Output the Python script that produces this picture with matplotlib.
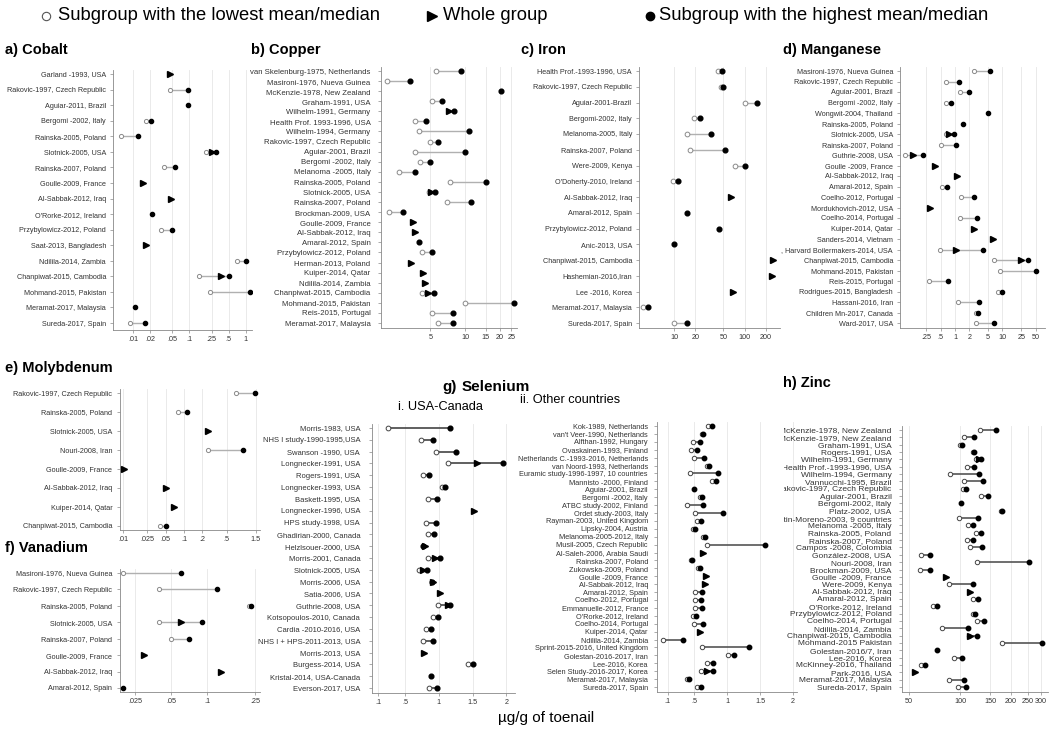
import numpy as np
import matplotlib
matplotlib.use("Agg")
import matplotlib.pyplot as plt
from matplotlib.ticker import NullLocator
from matplotlib.transforms import Bbox, TransformedBbox

plt.rcParams['font.family'] = ['Liberation Sans', 'DejaVu Sans']

W, H = 1050, 732
N = None

# ---------------- data (toenail concentrations, ug/g) ----------------
co_labels = ["Garland -1993, USA", "Rakovic-1997, Czech Republic", "Aguiar-2011, Brazil",
             "Bergomi -2002, Italy", "Rainska-2005, Poland", "Slotnick-2005, USA",
             "Rainska-2007, Poland", "Goulle-2009, France", "Al-Sabbak-2012, Iraq",
             "O'Rorke-2012, Ireland", "Przybylowicz-2012, Poland", "Saat-2013, Bangladesh",
             "Ndilila-2014, Zambia", "Chanpiwat-2015, Cambodia", "Mohmand-2015, Pakistan",
             "Meramat-2017, Malaysia", "Sureda-2017, Spain"]
co_low = [N, .045, N, .017, .006, .2, .035, N, N, N, .032, N, .7, .15, .23, N, .009]
co_whole = [.045, N, N, N, N, .25, N, .015, .047, N, N, .017, N, .37, N, N, N]
co_high = [N, .095, .095, .021, .012, .3, .055, N, N, .022, .05, N, 1.0, .5, 1.2, .011, .016]

cu_labels = ["van Skelenburg-1975, Netherlands", "Masironi-1976, Nueva Guinea",
             "McKenzie-1978, New Zealand", "Graham-1991, USA", "Wilhelm-1991, Germany",
             "Health Prof. 1993-1996, USA", "Wilhelm-1994, Germany", "Rakovic-1997, Czech Republic",
             "Aguiar-2001, Brazil", "Bergomi -2002, Italy", "Melanoma -2005, Italy",
             "Rainska-2005, Poland", "Slotnick-2005, USA", "Rainska-2007, Poland",
             "Brockman-2009, USA", "Goulle-2009, France", "Al-Sabbak-2012, Iraq",
             "Amaral-2012, Spain", "Przybylowicz-2012, Poland", "Herman-2013, Poland",
             "Kuiper-2014, Qatar", "Ndilila-2014, Zambia", "Chanpiwat-2015, Cambodia",
             "Mohmand-2015, Pakistan", "Reis-2015, Portugal", "Meramat-2017, Malaysia"]
cu_low = [5.6, 2.1, N, 5.2, N, 3.7, 4.0, 5.0, 3.65, 4.1, 2.7, 7.4, 4.9, 6.9, 2.2,
          N, N, N, 4.2, N, N, N, 4.2, 9.9, 5.2, 5.8]
cu_whole = [N, N, N, N, 7.3, N, N, N, N, N, N, N, 5.1, N, N,
            3.5, 3.7, N, N, 3.43, 4.3, 4.45, 4.77, N, N, N]
cu_high = [9.2, 3.3, 20.5, 6.3, 8.0, 4.55, 10.8, 5.8, 10.0, 5.0, 3.7, 15.2, 5.5, 11.1, 2.9,
           N, N, 4.0, 5.2, N, N, N, 5.4, 26.5, 7.9, 7.9]

fe_labels = ["Health Prof.-1993-1996, USA", "Rakovic-1997, Czech Republic", "Aguiar-2001-Brazil",
             "Bergomi-2002, Italy", "Melanoma-2005, Italy", "Rainska-2007, Poland",
             "Were-2009, Kenya", "O'Doherty-2010, Ireland", "Al-Sabbak-2012, Iraq",
             "Amaral-2012, Spain", "Przybylowicz-2012, Poland", "Anic-2013, USA",
             "Chanpiwat-2015, Cambodia", "Hashemian-2016,Iran", "Lee -2016, Korea",
             "Meramat-2017, Malaysia", "Sureda-2017, Spain"]
fe_low = [42, 46, 101, 19, 15, 17, 73, 9.7, N, N, N, N, N, N, N, 3.6, 9.8]
fe_whole = [N, N, N, N, N, N, N, N, 65, N, N, N, 250, 244, 68, N, N]
fe_high = [48, 50, 150, 23, 33, 52, 100, 11.3, N, 15, 44, 9.9, N, N, N, 4.2, 15]

mn_labels = ["Masironi-1976, Nueva Guinea", "Rakovic-1997, Czech Republic", "Aguiar-2001, Brazil",
             "Bergomi -2002, Italy", "Wongwit-2004, Thailand", "Rainska-2005, Poland",
             "Slotnick-2005, USA", "Rainska-2007, Poland", "Guthrie-2008, USA",
             "Goulle -2009, France", "Al-Sabbak-2012, Iraq", "Amaral-2012, Spain",
             "Coelho-2012, Portugal", "Mordukhovich-2012, USA", "Coelho-2014, Portugal",
             "Kuiper-2014, Qatar", "Sanders-2014, Vietnam", ", Harvard Boilermakers-2014, USA",
             "Chanpiwat-2015, Cambodia", "Mohmand-2015, Pakistan", "Reis-2015, Portugal",
             "Rodrigues-2015, Bangladesh", "Hassani-2016, Iran", "Children Mn-2017, Canada",
             "Ward-2017, USA"]
mn_low = [2.55, .65, 1.27, .64, N, N, .64, .51, .089, N, N, .52, 1.34, N, 1.27, N, N, .48,
          6.7, 8.9, .28, 8.2, 1.14, 2.75, 2.77]
mn_whole = [N, N, N, N, N, N, .74, N, .128, .38, 1.08, N, N, .30, N, 2.55, 6.2, 1.03,
            24.5, N, N, N, N, N, N]
mn_high = [5.45, 1.19, 1.94, .82, 4.87, 1.45, .94, 1.03, .21, N, N, .67, 2.55, N, 2.95, N, N,
           3.83, 35, 50, .72, 9.9, 3.15, 3.05, 6.7]

mo_labels = ["Rakovic-1997, Czech Republic", "Rainska-2005, Poland", "Slotnick-2005, USA",
             "Nouri-2008, Iran", "Goulle-2009, France", "Al-Sabbak-2012, Iraq",
             "Kuiper-2014, Qatar", "Chanpiwat-2015, Cambodia"]
mo_low = [.71, .081, N, .245, N, N, N, .04]
mo_whole = [N, N, .245, N, .0102, .05, .069, N]
mo_high = [1.45, .112, N, .94, N, N, N, .05]

v_labels = ["Masironi-1976, Nueva Guinea", "Rakovic-1997, Czech Republic", "Rainska-2005, Poland",
            "Slotnick-2005, USA", "Rainska-2007, Poland", "Goulle-2009, France",
            "Al-Sabbak-2012, Iraq", "Amaral-2012, Spain"]
v_low = [.02, .04, .221, .04, .05, N, N, N]
v_whole = [N, N, N, .06, N, .0297, .13, N]
v_high = [.06, .121, .232, .09, .071, N, N, .0200]

se1_labels = ["Morris-1983, USA", "NHS I study-1990-1995,USA", "Swanson -1990, USA",
              "Longnecker-1991, USA", "Rogers-1991, USA", "Longnecker-1993, USA",
              "Baskett-1995, USA", "Longnecker-1996, USA", "HPS study-1998, USA",
              "Ghadirian-2000, Canada", "Helzlsouer-2000, USA", "Morris-2001, Canada",
              "Slotnick-2005, USA", "Morris-2006, USA", "Satia-2006, USA", "Guthrie-2008, USA",
              "Kotsopoulos-2010, Canada", "Cardia -2010-2016, USA", "NHS I + HPS-2011-2013, USA",
              "Morris-2013, USA", "Burgess-2014, USA", "Kristal-2014, USA-Canada",
              "Everson-2017, USA"]
se1_low = [.24, .74, .955, 1.14, .76, 1.05, .84, N, .81, .84, N, .84, .71, N, N, .98, .92,
           .81, .76, N, 1.43, N, .85]
se1_whole = [N, N, N, 1.57, N, N, N, 1.52, N, N, .79, .94, .77, .92, 1.02, 1.13, N, N, N,
             .78, N, N, N]
se1_high = [1.17, .91, 1.25, 1.95, .86, 1.09, .97, N, .955, .93, .76, 1.01, .82, .90, N, 1.16,
            .99, .88, .92, N, 1.51, .88, .97]

se2_labels = ["Kok-1989, Netherlands", "van't Veer-1990, Netherlands", "Alfthan-1992, Hungary",
              "Ovaskainen-1993, Finland", "Netherlands C.-1993-2016, Netherlands",
              "van Noord-1993, Netherlands", "Euramic study-1996-1997, 10 countries",
              "Mannisto -2000, Finland", "Aguiar-2001, Brazil", "Bergomi -2002, Italy",
              "ATBC study-2002, Finland", "Ordet study-2003, Italy", "Rayman-2003, United Kingdom",
              "Lipsky-2004, Austria", "Melanoma-2005-2012, Italy", "Musil-2005, Czech Republic",
              "Al-Saleh-2006, Arabia Saudi", "Rainska-2007, Poland", "Zukowska-2009, Poland",
              "Goulle -2009, France", "Al-Sabbak-2012, Iraq", "Amaral-2012, Spain",
              "Coelho-2012, Portugal", "Emmanuelle-2012, France", "O'Rorke-2012, Ireland",
              "Coelho-2014, Portugal", "Kuiper-2014, Qatar", "Ndilila-2014, Zambia",
              "Sprint-2015-2016, United Kingdom", "Golestan-2016-2017, Iran", "Lee-2016, Korea",
              "Selen Study-2016-2017, Korea", "Meramat-2017, Malaysia", "Sureda-2017, Spain"]
se2_low = [.71, .62, .49, .45, .50, .70, .44, .77, N, .59, .40, .51, .55, .49, .63, .69, N,
           .45, .56, N, N, .52, .52, .52, .48, .50, N, .035, .62, 1.01, .69, .60, .39, .55]
se2_whole = [N, N, N, N, N, N, N, N, N, N, N, N, N, N, N, N, .63, N, N, .68, .67, N, N, N,
             N, N, .59, N, N, N, N, .70, N, N]
se2_high = [.78, .64, .59, .54, .65, .73, .87, .84, .50, .62, .64, .94, .61, .52, .67, 1.58, N,
            .47, .59, N, N, .62, .61, .62, .53, .63, N, .34, 1.33, 1.11, .79, .79, .43, .61]

zn_labels = ["McKenzie-1978, New Zealand", "McKenzie-1979, New Zealand", "Graham-1991, USA",
             "Rogers-1991, USA", "Wilhelm-1991, Germany", "Health Prof.-1993-1996, USA",
             "Wilhelm-1994, Germany", "Vannucchi-1995, Brazil", "Rakovic-1997, Czech Republic",
             "Aguiar-2001, Brazil", "Bergomi-2002, Italy", "Platz-2002, USA",
             "Martin-Moreno-2003, 9 countries", "Melanoma -2005, Italy", "Rainska-2005, Poland",
             "Rainska-2007, Poland", "Campos -2008, Colombia", "González-2008, USA",
             "Nouri-2008, Iran", "Brockman-2009, USA", "Goulle -2009, France", "Were-2009, Kenya",
             "Al-Sabbak-2012, Iraq", "Amaral-2012, Spain", "O'Rorke-2012, Ireland",
             "Przybylowicz-2012, Poland", "Coelho-2014, Portugal", "Ndilila-2014, Zambia",
             "Chanpiwat-2015, Cambodia", "Mohmand-2015 Pakistan", "Golestan-2016/7, Iran",
             "Lee-2016, Korea", "McKinney-2016, Thailand", "Park-2016, USA",
             "Meramat-2017, Malaysia", "Sureda-2017, Spain"]
zn_low = [131, 106, 100, 119, 124, 110, 87, 105, 104, 133, N, 174, 99, 111, 124, 110, 114, 59,
          125, 57.6, N, 85.5, N, 119, 69, 119, 125, 78, 113, 176, N, 92, 59, N, 85.5, 97]
zn_whole = [N, N, N, N, 129, N, N, N, N, N, N, N, N, N, N, N, N, N, N, N, 82, N, 115, N, N,
            N, N, N, 115, N, N, N, N, 54, N, N]
zn_high = [163, 121, 103, 121, 133, 120, 130, 137, 108, 147, 101, 176, 127, 119, 132, 119, 134,
           66, 256, 66, N, 119, N, 127, 73, 122, 138, 111, 125, 305, 73, 102, 62, N, 105, 108]

fig = plt.figure(figsize=(10.5, 7.32), dpi=100)


def panel(box, labels, low, whole, high, xlim, ticks, ticklabels, logx=True,
          lc='#b0b0b0', oc='#8a8a8a', ms=3.0, lw=1.0, fs=5.2, pad=3.0, clip_x=None):
    left, first, last, bottom, right = box
    n = len(labels)
    step = (last - first) / (n - 1)
    top = first - 4
    ax = fig.add_axes([left / W, 1 - bottom / H, (right - left) / W, (bottom - top) / H])
    y = np.arange(n)
    ax.set_ylim(n - 1 + (bottom - last) / step, -(first - top) / step)
    if logx:
        ax.set_xscale('log')
    ax.set_xlim(xlim)
    lo = np.array(low, dtype=float)
    wh = np.array(whole, dtype=float)
    hi = np.array(high, dtype=float)
    allv = np.vstack([lo, wh, hi])
    ax.hlines(y, np.nanmin(allv, axis=0), np.nanmax(allv, axis=0), color=lc, lw=lw, zorder=2)
    ax.plot(lo, y, 'o', ms=ms, mfc='white', mec=oc, mew=0.7, ls='none', zorder=3)
    ax.plot(wh, y, '>', ms=ms + 0.8, color='black', ls='none', zorder=4)
    ax.plot(hi, y, 'o', ms=ms, color='black', ls='none', zorder=5)
    ax.set_yticks(y)
    ax.set_yticklabels(labels, fontsize=fs, color='#333333')
    ax.set_xticks(ticks)
    ax.set_xticklabels(ticklabels, fontsize=5.2, color='#333333')
    ax.xaxis.set_minor_locator(NullLocator())
    ax.grid(axis='x', color='#e6e6e6', lw=0.6)
    ax.set_axisbelow(True)
    for s in ['top', 'right']:
        ax.spines[s].set_visible(False)
    for s in ['left', 'bottom']:
        ax.spines[s].set_color('#888888')
        ax.spines[s].set_linewidth(0.6)
    ax.tick_params(length=2.5, width=0.5, color='#888888', pad=1.5)
    ax.tick_params(axis='y', pad=pad)
    if clip_x is not None:
        cb = TransformedBbox(Bbox.from_extents(clip_x / W, 0, 1, 1), fig.transFigure)
        for t in ax.get_yticklabels():
            t.set_clip_on(True)
            t.set_clip_box(cb)
    return ax


panel((113, 74, 323, 330, 252), co_labels, co_low, co_whole, co_high, (0.0044, 1.3),
      [.01, .02, .05, .1, .25, .5, 1], ['.01', '.02', '.05', '.1', '.25', '.5', '1'], pad=2.5)
panel((381, 71, 323, 328, 517), cu_labels, cu_low, cu_whole, cu_high, (1.87, 28),
      [5, 10, 15, 20, 25], ['5', '10', '15', '20', '25'], ms=3.4, fs=5.6, pad=5)
panel((639, 71, 323, 328, 780), fe_labels, fe_low, fe_whole, fe_high, (3.17, 318),
      [10, 20, 50, 100, 200], ['10', '20', '50', '100', '200'], ms=3.4, pad=2.5)
panel((900, 71, 323, 328, 1045), mn_labels, mn_low, mn_whole, mn_high, (0.0695, 78.5),
      [.25, .5, 1, 2, 5, 10, 25, 50], ['.25', '.5', '1', '2', '5', '10', '25', '50'], pad=2.5)
panel((120, 393, 526, 530, 260), mo_labels, mo_low, mo_whole, mo_high, (0.0089, 1.76),
      [.01, .025, .05, .1, .2, .5, 1.5], ['.01', '.025', '.05', '.1', '.2', '.5', '1.5'])
panel((120, 573, 688, 692, 260), v_labels, v_low, v_whole, v_high, (0.01875, 0.275),
      [.025, .05, .1, .25], ['.025', '.05', '.1', '.25'])
panel((372, 428, 688, 693, 515), se1_labels, se1_low, se1_whole, se1_high, (0.007, 2.13),
      [.1, .5, 1, 1.5, 2], ['.1', '.5', '1', '1.5', '2'], logx=False,
      lc='#444444', oc='#444444', ms=3.4, lw=1.2, fs=5.5, pad=6)
panel((657, 426, 687, 692, 797), se2_labels, se2_low, se2_whole, se2_high, (-0.06, 2.06),
      [.1, .5, 1, 1.5, 2], ['.1', '.5', '1', '1.5', '2'], logx=False,
      lc='#555555', oc='#444444', ms=3.2, lw=1.2, fs=5.3, pad=4)
panel((902, 430, 687, 692, 1048), zn_labels, zn_low, zn_whole, zn_high, (45.4, 330),
      [50, 100, 150, 200, 250, 300], ['50', '100', '150', '200', '250', '300'],
      lc='#555555', oc='#444444', ms=3.2, lw=1.2, fs=6.0, pad=5, clip_x=784)

# overlay in pixel coordinates for titles and legend
ov = fig.add_axes([0, 0, 1, 1])
ov.set_xlim(0, W)
ov.set_ylim(H, 0)
ov.axis('off')

legfont = ['Liberation Sans Narrow', 'Liberation Sans', 'DejaVu Sans']
ov.plot([46], [16], 'o', ms=6, mfc='white', mec='#555555', mew=0.8)
ov.text(58, 16, 'Subgroup with the lowest mean/median', fontsize=13.2, va='center', family=legfont)
ov.plot([432], [16], '>', ms=7, color='black')
ov.text(443, 16, 'Whole group', fontsize=13.2, va='center', family=legfont)
ov.plot([650], [16], 'o', ms=6, color='black')
ov.text(659, 16, 'Subgroup with the highest mean/median', fontsize=13.2, va='center', family=legfont)

tkw = dict(fontsize=10.5, fontweight='bold', va='center')
ov.text(5, 50, 'a) Cobalt', **tkw)
ov.text(251, 50, 'b) Copper', **tkw)
ov.text(521, 50, 'c) Iron', **tkw)
ov.text(783, 50, 'd) Manganese', **tkw)
ov.text(5, 368, 'e) Molybdenum', **tkw)
ov.text(5, 548, 'f) Vanadium', **tkw)
ov.text(783, 383, 'h) Zinc', **tkw)
ov.text(442, 387, 'g)', fontsize=11, fontweight='bold', va='center')
ov.text(462, 387, 'Selenium', fontsize=11, fontweight='bold', va='center')
ov.text(398, 407, 'i. USA-Canada', fontsize=9.2, va='center')
ov.text(520, 400, 'ii. Other countries', fontsize=9.2, va='center')
ov.text(546, 718, 'µg/g of toenail', fontsize=11, ha='center', va='center')

fig.savefig('out.png', dpi=100)
